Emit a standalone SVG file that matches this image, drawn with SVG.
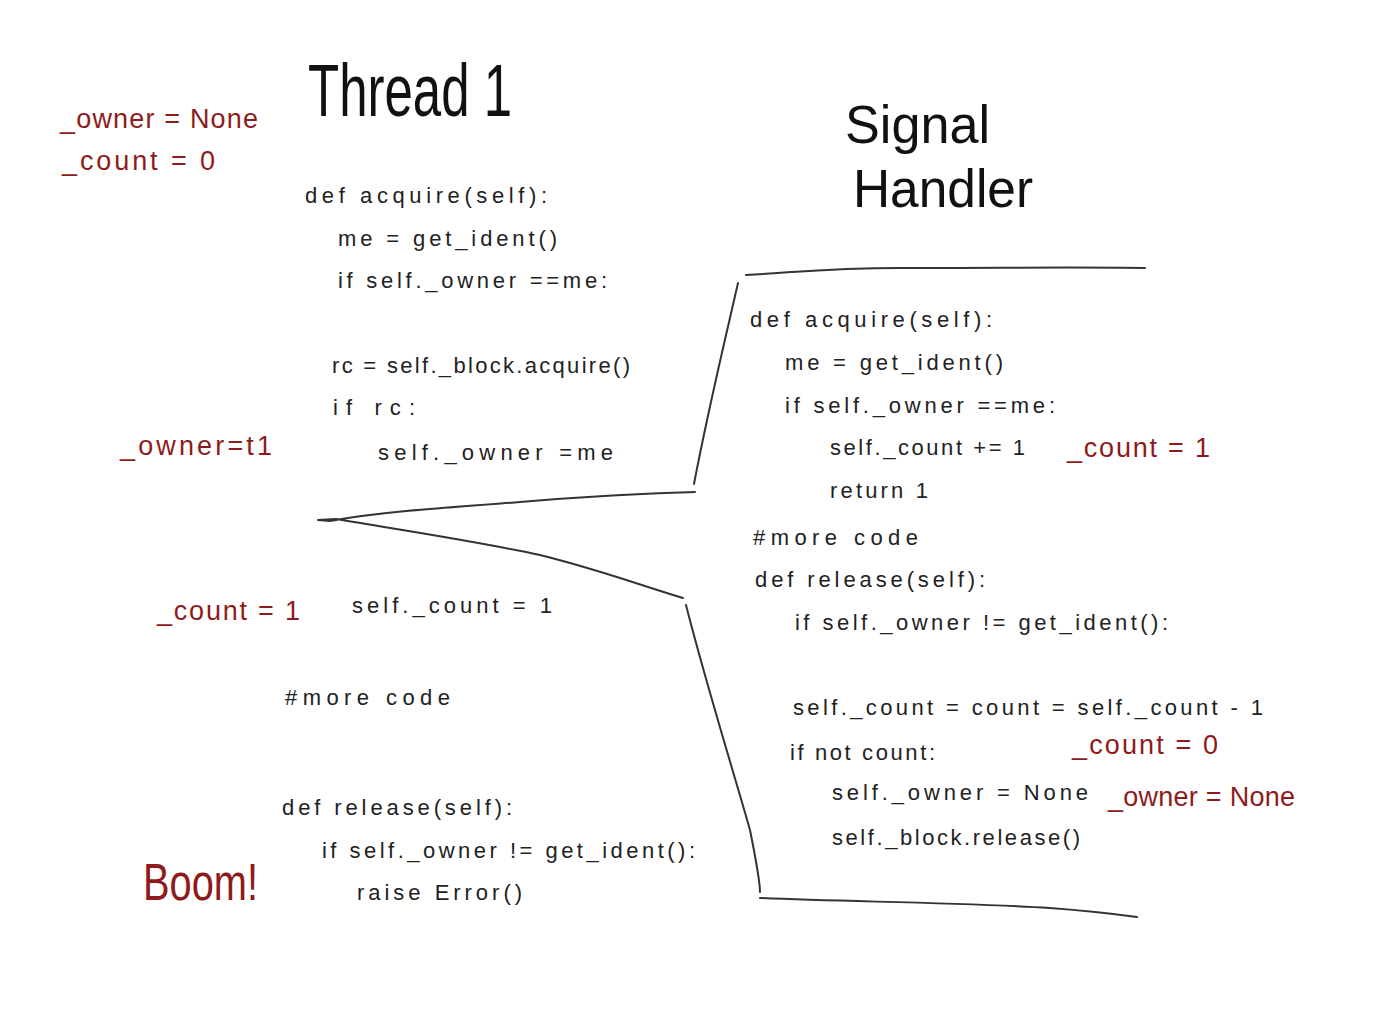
<svg xmlns="http://www.w3.org/2000/svg" width="1400" height="1011" viewBox="0 0 1400 1011">
<style>
.code{font-family:"Liberation Sans",Arial,sans-serif;font-size:22px;fill:#222;}
.red{font-family:"Liberation Sans",Arial,sans-serif;font-size:27px;fill:#8e1b1b;}
.boom{font-family:"Liberation Sans",Arial,sans-serif;font-size:52px;fill:#8e1b1b;}
.title{font-family:"Liberation Sans",Arial,sans-serif;font-size:54px;fill:#111;}
.big{font-family:"Liberation Sans",Arial,sans-serif;font-size:74px;fill:#111;}
.ln{fill:none;stroke:#333;stroke-width:2;stroke-linecap:round;stroke-linejoin:round;}
</style>
<rect width="1400" height="1011" fill="#ffffff"/>
<g id="lines">
<path class="ln" d="M746,275 C800,272 830,268 900,268 C1000,268 1080,267 1145,268"/>
<path class="ln" d="M738,283 C725,340 708,410 694,484"/>
<path class="ln" d="M695,492 C640,494 600,495 520,502 C440,508 380,512 330,521 L318,520 L336,519 C400,530 470,540 540,555 C600,570 640,585 683,598"/>
<path class="ln" d="M686,605 C705,680 730,760 750,830 C756,860 760,880 760,892"/>
<path class="ln" d="M760,898 C850,902 950,902 1050,908 C1090,911 1115,914 1137,917"/>
</g>
<g id="thread1">
<text class="big" x="308" y="116" textLength="204" lengthAdjust="spacingAndGlyphs">Thread 1</text>
<text class="code" x="305" y="203" textLength="242" lengthAdjust="spacing">def acquire(self):</text>
<text class="code" x="338" y="246" textLength="219" lengthAdjust="spacing">me = get_ident()</text>
<text class="code" x="338" y="288" textLength="269" lengthAdjust="spacing">if self._owner ==me:</text>
<text class="code" x="332" y="373" textLength="298" lengthAdjust="spacing">rc = self._block.acquire()</text>
<text class="code" x="333" y="415" textLength="82" lengthAdjust="spacing">if rc:</text>
<text class="code" x="378" y="460" textLength="235" lengthAdjust="spacing">self._owner =me</text>
<text class="code" x="352" y="613" textLength="200" lengthAdjust="spacing">self._count = 1</text>
<text class="code" x="285" y="705" textLength="165" lengthAdjust="spacing">#more code</text>
<text class="code" x="282" y="815" textLength="230" lengthAdjust="spacing">def release(self):</text>
<text class="code" x="322" y="858" textLength="373" lengthAdjust="spacing">if self._owner != get_ident():</text>
<text class="code" x="357" y="900" textLength="165" lengthAdjust="spacing">raise Error()</text>
</g>
<g id="thread1-notes">
<text class="red" x="60" y="128" textLength="198" lengthAdjust="spacing">_owner = None</text>
<text class="red" x="62" y="170" textLength="153" lengthAdjust="spacing">_count = 0</text>
<text class="red" x="120" y="455" textLength="152" lengthAdjust="spacing">_owner=t1</text>
<text class="red" x="157" y="620" textLength="143" lengthAdjust="spacing">_count = 1</text>
<text class="boom" x="143" y="900" textLength="115" lengthAdjust="spacingAndGlyphs">Boom!</text>
</g>
<g id="signal-handler">
<text class="title" x="845" y="143" textLength="145" lengthAdjust="spacingAndGlyphs">Signal</text>
<text class="title" x="853" y="207" textLength="180" lengthAdjust="spacingAndGlyphs">Handler</text>
<text class="code" x="750" y="327" textLength="242" lengthAdjust="spacing">def acquire(self):</text>
<text class="code" x="785" y="370" textLength="218" lengthAdjust="spacing">me = get_ident()</text>
<text class="code" x="785" y="413" textLength="270" lengthAdjust="spacing">if self._owner ==me:</text>
<text class="code" x="830" y="455" textLength="195" lengthAdjust="spacing">self._count += 1</text>
<text class="code" x="830" y="498" textLength="98" lengthAdjust="spacing">return 1</text>
<text class="code" x="753" y="545" textLength="165" lengthAdjust="spacing">#more code</text>
<text class="code" x="755" y="587" textLength="230" lengthAdjust="spacing">def release(self):</text>
<text class="code" x="795" y="630" textLength="373" lengthAdjust="spacing">if self._owner != get_ident():</text>
<text class="code" x="793" y="715" textLength="470" lengthAdjust="spacing">self._count = count = self._count - 1</text>
<text class="code" x="790" y="760" textLength="145" lengthAdjust="spacing">if not count:</text>
<text class="code" x="832" y="800" textLength="256" lengthAdjust="spacing">self._owner = None</text>
<text class="code" x="832" y="845" textLength="248" lengthAdjust="spacing">self._block.release()</text>
</g>
<g id="signal-notes">
<text class="red" x="1067" y="457" textLength="143" lengthAdjust="spacing">_count = 1</text>
<text class="red" x="1072" y="754" textLength="146" lengthAdjust="spacing">_count = 0</text>
<text class="red" x="1108" y="806" textLength="187" lengthAdjust="spacing">_owner = None</text>
</g>
</svg>
